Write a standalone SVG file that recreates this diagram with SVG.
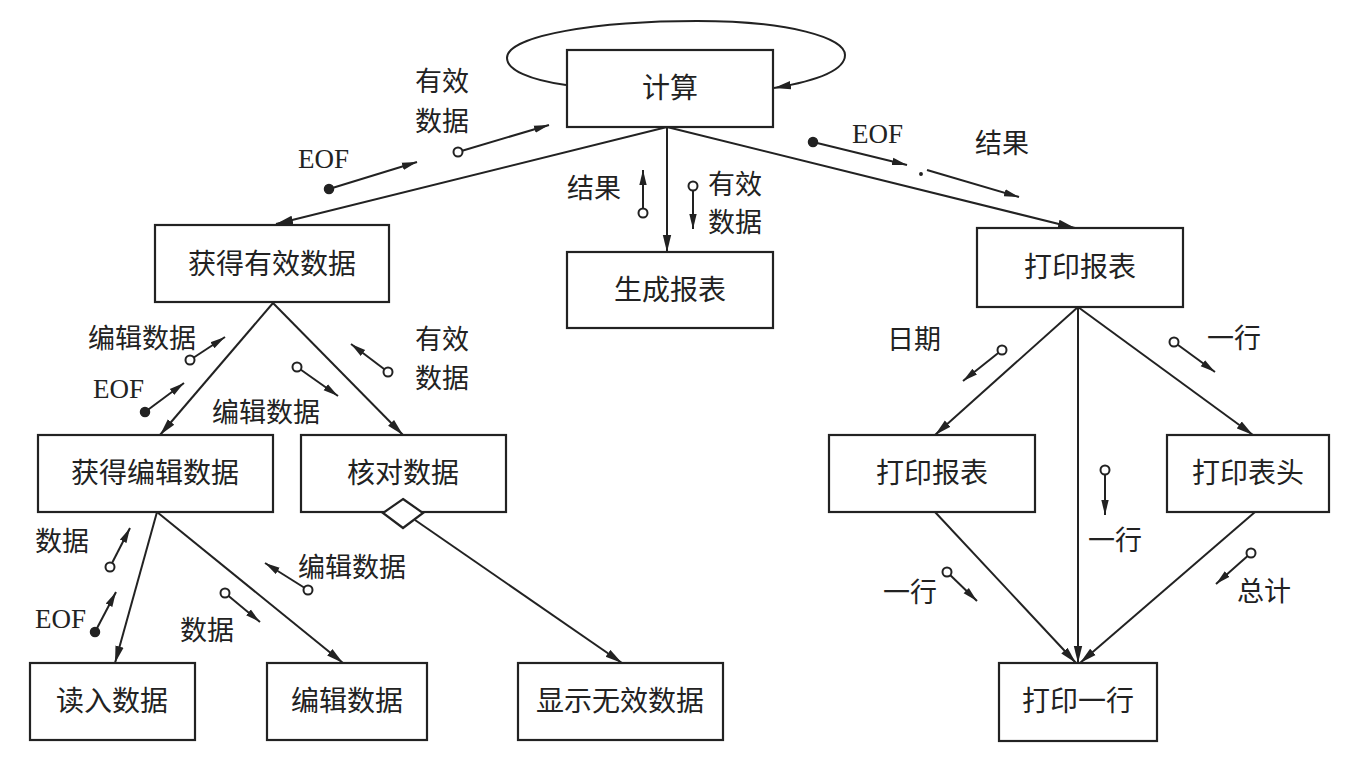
<svg xmlns="http://www.w3.org/2000/svg" width="1355" height="772" viewBox="0 0 1355 772">
<style>
.box{fill:#fff;stroke:#222;stroke-width:2.2}
.bt{font-family:"Noto Sans CJK SC","Noto Sans",sans-serif;font-size:28px;fill:#222;text-anchor:middle}
.lb{font-family:"Noto Sans CJK SC","Noto Sans",sans-serif;font-size:27px;fill:#222}
.eof{font-family:"Liberation Serif",serif;font-size:27px;fill:#222}
.cn{fill:none;stroke:#222;stroke-width:2;marker-end:url(#a)}
.fl{fill:none;stroke:#222;stroke-width:2;marker-end:url(#s)}
.oc{fill:#fff;stroke:#222;stroke-width:2}
.fc{fill:#222;stroke:#222;stroke-width:1.5}
</style>
<defs>
<marker id="a" markerUnits="userSpaceOnUse" markerWidth="18" markerHeight="10" refX="17" refY="5" orient="auto"><path d="M0,0.8 L17,5 L0,9.2 Z" fill="#222"/></marker>
<marker id="s" markerUnits="userSpaceOnUse" markerWidth="16" markerHeight="9" refX="15" refY="4.5" orient="auto"><path d="M0,0.8 L15,4.5 L0,8.2 Z" fill="#222"/></marker>
</defs>
<rect width="1355" height="772" fill="#fff"/>
<g id="connectors">
<path class="cn" d="M566 85 C530 80 507 70 507 58 C507 35 600 21 697 21 C790 21 845 38 845 55 C845 72 810 82 774 88"/>
<line class="cn" x1="667" y1="127" x2="276" y2="224"/>
<line class="cn" x1="667" y1="127" x2="667" y2="252"/>
<line class="cn" x1="667" y1="127" x2="1075" y2="228"/>
<line class="cn" x1="273" y1="303" x2="160" y2="435"/>
<line class="cn" x1="273" y1="303" x2="403" y2="435"/>
<line class="cn" x1="157" y1="512" x2="115" y2="663"/>
<line class="cn" x1="157" y1="512" x2="343" y2="663"/>
<line class="cn" x1="415" y1="520" x2="622" y2="663"/>
<line class="cn" x1="1078" y1="307" x2="935" y2="435"/>
<line class="cn" x1="1078" y1="307" x2="1078" y2="663"/>
<line class="cn" x1="1078" y1="307" x2="1253" y2="435"/>
<line class="cn" x1="935" y1="512" x2="1076" y2="663"/>
<line class="cn" x1="1255" y1="512" x2="1080" y2="663"/>
<!-- flow indicators -->
<line class="fl" x1="329" y1="189" x2="417" y2="162"/><circle class="fc" cx="329" cy="189" r="4.5"/>
<line class="fl" x1="458" y1="152" x2="549" y2="125"/><circle class="oc" cx="458" cy="152" r="4.5"/>
<line class="fl" x1="643" y1="213" x2="643" y2="170"/><circle class="oc" cx="643" cy="213" r="4.5"/>
<line class="fl" x1="693" y1="186" x2="693" y2="229"/><circle class="oc" cx="693" cy="186" r="4.5"/>
<line class="fl" x1="813" y1="142" x2="907" y2="165"/><circle class="fc" cx="813" cy="142" r="4.5"/>
<line class="fl" x1="927" y1="170" x2="1019" y2="197"/><circle class="fc" cx="921" cy="174" r="1.2"/>
<line class="fl" x1="190" y1="360" x2="225" y2="337"/><circle class="oc" cx="190" cy="360" r="4.5"/>
<line class="fl" x1="145" y1="412" x2="184" y2="383"/><circle class="fc" cx="145" cy="412" r="4.5"/>
<line class="fl" x1="297" y1="367" x2="338" y2="396"/><circle class="oc" cx="297" cy="367" r="4.5"/>
<line class="fl" x1="388" y1="372" x2="351" y2="344"/><circle class="oc" cx="388" cy="372" r="4.5"/>
<line class="fl" x1="110" y1="567" x2="130" y2="528"/><circle class="oc" cx="110" cy="567" r="4.5"/>
<line class="fl" x1="95" y1="632" x2="116" y2="592"/><circle class="fc" cx="95" cy="632" r="4.5"/>
<line class="fl" x1="308" y1="590" x2="265" y2="563"/><circle class="oc" cx="308" cy="590" r="4.5"/>
<line class="fl" x1="225" y1="593" x2="260" y2="622"/><circle class="oc" cx="225" cy="593" r="4.5"/>
<line class="fl" x1="1002" y1="350" x2="963" y2="381"/><circle class="oc" cx="1002" cy="350" r="4.5"/>
<line class="fl" x1="1174" y1="342" x2="1215" y2="372"/><circle class="oc" cx="1174" cy="342" r="4.5"/>
<line class="fl" x1="1105" y1="470" x2="1105" y2="515"/><circle class="oc" cx="1105" cy="470" r="4.5"/>
<line class="fl" x1="947" y1="572" x2="977" y2="601"/><circle class="oc" cx="947" cy="572" r="4.5"/>
<line class="fl" x1="1251" y1="553" x2="1216" y2="584"/><circle class="oc" cx="1251" cy="553" r="4.5"/>
</g>
<g id="labels">
<text class="lb" x="415" y="91">有效</text>
<text class="lb" x="415" y="131">数据</text>
<text class="eof" x="298" y="168">EOF</text>
<text class="lb" x="567" y="198">结果</text>
<text class="lb" x="708" y="194">有效</text>
<text class="lb" x="708" y="232">数据</text>
<text class="eof" x="852" y="143">EOF</text>
<text class="lb" x="975" y="153">结果</text>
<text class="lb" x="88" y="348">编辑数据</text>
<text class="eof" x="93" y="398">EOF</text>
<text class="lb" x="212" y="422">编辑数据</text>
<text class="lb" x="415" y="349">有效</text>
<text class="lb" x="415" y="388">数据</text>
<text class="lb" x="35" y="551">数据</text>
<text class="eof" x="35" y="628">EOF</text>
<text class="lb" x="298" y="577">编辑数据</text>
<text class="lb" x="180" y="640">数据</text>
<text class="lb" x="887" y="349">日期</text>
<text class="lb" x="1207" y="348">一行</text>
<text class="lb" x="1088" y="550">一行</text>
<text class="lb" x="883" y="602">一行</text>
<text class="lb" x="1237" y="601">总计</text>
</g>
<g id="n-jisuan"><rect class="box" x="567" y="50" width="206" height="77"/><text class="bt" x="670" y="98">计算</text></g>
<g id="n-huodeyouxiao"><rect class="box" x="155" y="225" width="234" height="77"/><text class="bt" x="272" y="274">获得有效数据</text></g>
<g id="n-shengcheng"><rect class="box" x="567" y="252" width="206" height="76"/><text class="bt" x="670" y="300">生成报表</text></g>
<g id="n-dayinbaobiao1"><rect class="box" x="977" y="228" width="206" height="79"/><text class="bt" x="1080" y="277">打印报表</text></g>
<g id="n-huodebianji"><rect class="box" x="38" y="435" width="235" height="77"/><text class="bt" x="155" y="483">获得编辑数据</text></g>
<g id="n-heduei"><rect class="box" x="301" y="435" width="205" height="77"/><text class="bt" x="403" y="483">核对数据</text><polygon class="box" points="403,499 423,513 403,528 383,513"/></g>
<g id="n-dayinbaobiao2"><rect class="box" x="829" y="435" width="206" height="77"/><text class="bt" x="932" y="483">打印报表</text></g>
<g id="n-dayinbiaotou"><rect class="box" x="1167" y="435" width="162" height="77"/><text class="bt" x="1248" y="483">打印表头</text></g>
<g id="n-duru"><rect class="box" x="30" y="663" width="165" height="77"/><text class="bt" x="112" y="711">读入数据</text></g>
<g id="n-bianji"><rect class="box" x="267" y="663" width="160" height="77"/><text class="bt" x="347" y="711">编辑数据</text></g>
<g id="n-xianshi"><rect class="box" x="518" y="663" width="205" height="77"/><text class="bt" x="620" y="711">显示无效数据</text></g>
<g id="n-dayinyihang"><rect class="box" x="999" y="663" width="158" height="78"/><text class="bt" x="1078" y="711">打印一行</text></g>
</svg>
